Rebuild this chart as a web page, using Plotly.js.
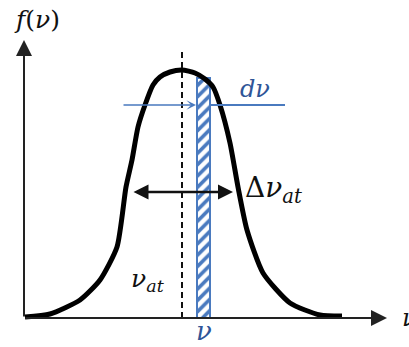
<!DOCTYPE html>
<html>
<head>
<meta charset="utf-8">
<script src="https://cdn.plot.ly/plotly-3.0.1.min.js"></script>
<style>
  html, body { margin: 0; padding: 0; background: #fff; }
  #chart { width: 409px; height: 347px; }
</style>
</head>
<body>
<div id="chart"></div>
<script>
// Line profile f(ν): frequency ν and line-shape value f, in drawing units
const curveNu = [25, 50, 80, 100, 117, 126, 132, 138, 145, 153, 160, 170, 182, 195, 205, 213, 220, 230, 238, 247, 263, 290, 320, 342];
const curveF  = [1, 4, 18, 38, 71, 131, 158, 191, 213, 233, 241, 246, 248, 245, 239, 231, 213, 175, 131, 88, 45, 15, 3, 2];

// Centre frequency ν_at and the half-maximum width Δν_at
const nuAt = 182;
const halfWidthNu = [132, 233];
const halfWidthF = 126;

// Narrow slice dν around ν
const sliceNu = [203.5];
const sliceF = [240];
const sliceWidth = [13];
const dNuLevel = 213;

// Axis extents
const nuAxisEnd = 387;
const fAxisEnd = 278;

const ink = '#111111';
const blue = '#4a7abf';
const blueText = '#2f5597';
const serif = "'DejaVu Serif', serif";

const traces = [
  {
    type: 'bar',
    x: sliceNu, y: sliceF, width: sliceWidth,
    marker: {
      color: 'white',
      line: { color: blue, width: 2 },
      pattern: { shape: '/', fgcolor: blue, bgcolor: 'white', size: 8, solidity: 0.45 }
    },
    hoverinfo: 'skip'
  },
  {
    type: 'scatter', mode: 'lines',
    x: curveNu, y: curveF,
    line: { color: 'black', width: 5, shape: 'spline', smoothing: 0.6 },
    hoverinfo: 'skip'
  }
];

const arrow = (x, y, ax, ay, extra) => Object.assign({
  x: x, y: y, ax: ax, ay: ay, xref: 'x', yref: 'y', axref: 'x', ayref: 'y',
  text: '', showarrow: true
}, extra);

const label = (x, y, text, size, color, xanchor) => ({
  x: x, y: y, xref: 'x', yref: 'y', text: text, showarrow: false,
  xanchor: xanchor || 'center', yanchor: 'middle',
  font: { family: serif, size: size, color: color }
});

const annotations = [
  // axes
  arrow(nuAxisEnd, 0, 24, 0, { arrowhead: 2, arrowsize: 1.6, arrowwidth: 2, arrowcolor: '#222' }),
  arrow(24, fAxisEnd, 24, 0, { arrowhead: 2, arrowsize: 1.6, arrowwidth: 2, arrowcolor: '#222' }),
  // Δν_at double arrow
  arrow(halfWidthNu[1], halfWidthF, halfWidthNu[0], halfWidthF,
        { arrowhead: 2, startarrowhead: 2, arrowside: 'end+start', arrowsize: 1.2, startarrowsize: 1.2, arrowwidth: 2.5, arrowcolor: ink }),
  // dν pointer
  arrow(sliceNu[0] - sliceWidth[0] / 2 - 1, dNuLevel, 122, dNuLevel,
        { arrowhead: 3, arrowsize: 1, arrowwidth: 1.6, arrowcolor: blue }),
  // labels
  label(37, 299, '<i>f</i>(<i>ν</i>)', 25, ink),
  label(255, 229, '<i>dν</i>', 24, blueText),
  label(243, 129, 'Δ<i>ν</i><sub><i>at</i></sub>', 28, ink, 'left'),
  label(129, 38, '<i>ν</i><sub><i>at</i></sub>', 25, ink, 'left'),
  label(sliceNu[0], -13, '<i>ν</i>', 26, blueText),
  label(400, 0, '<i>ν</i>', 24, ink, 'left')
];

const shapes = [
  { type: 'line', xref: 'x', yref: 'y', x0: nuAt, x1: nuAt, y0: 0, y1: 266,
    line: { color: ink, width: 2, dash: '6px,4px' } },
  { type: 'line', xref: 'x', yref: 'y', x0: sliceNu[0] + sliceWidth[0] / 2, x1: 285, y0: dNuLevel, y1: dNuLevel,
    line: { color: blue, width: 1.8 } }
];

const layout = {
  width: 409, height: 347,
  margin: { l: 0, r: 0, t: 0, b: 0 },
  paper_bgcolor: 'white', plot_bgcolor: 'white',
  showlegend: false,
  xaxis: { range: [0, 409], visible: false, fixedrange: true },
  yaxis: { range: [-29, 318], visible: false, fixedrange: true },
  annotations: annotations,
  shapes: shapes
};

Plotly.newPlot('chart', traces, layout, { staticPlot: true, displayModeBar: false });
</script>
</body>
</html>
